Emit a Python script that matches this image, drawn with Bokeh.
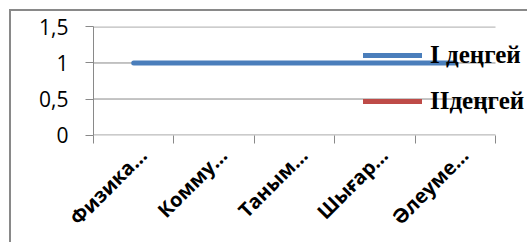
import math
from bokeh.plotting import figure
from bokeh.models import FixedTicker, Legend, LegendItem, Range1d
from bokeh.embed import file_html
from bokeh.resources import INLINE

categories = ["Физика…", "Комму…", "Таным…", "Шығар…", "Әлеуме…"]
series_names = ["I деңгей", "IIдеңгей"]
level1 = [1, 1, 1, 1, 1]
level2 = [float("nan")] * 5
y_ticks = [0, 0.5, 1, 1.5]
y_tick_labels = ["0", "0,5", "1", "1,5"]

BLUE = "#4A7EBB"
RED = "#BE4B48"
GRAY = "#898989"

n = len(categories)
# frame spans 0..n plus extra room on the right so the legend is not clipped
x_extra = 34 / 80.4
p = figure(width=518, height=233, output_backend="svg", toolbar_location=None,
           x_range=Range1d(0, n + x_extra), y_range=Range1d(-0.006, 1.506),
           min_border_left=82, min_border_right=0, min_border_top=15, min_border_bottom=109)
p.margin = (9, 0, 0, 9)
p.styles = {"border-left": "2px solid " + GRAY, "border-top": "2px solid " + GRAY}
p.outline_line_color = None
p.xgrid.grid_line_color = None
p.ygrid.grid_line_color = None

# horizontal gridlines (also acting as the category axis line at 0)
p.segment(x0=[0] * len(y_ticks), x1=[n] * len(y_ticks), y0=y_ticks, y1=y_ticks,
          line_color=GRAY, line_width=1)

xc = [i + 0.5 for i in range(n)]
r1 = p.line(xc, level1, line_color=BLUE, line_width=5, line_cap="round")
r2 = p.line(xc, level2, line_color=RED, line_width=5, line_cap="round")

# y axis
p.yaxis.ticker = FixedTicker(ticks=y_ticks)
p.yaxis.major_label_overrides = {t: s for t, s in zip(y_ticks, y_tick_labels)}
p.yaxis.axis_line_color = GRAY
p.yaxis.major_tick_line_color = GRAY
p.yaxis.major_tick_out = 8
p.yaxis.major_tick_in = 0
p.yaxis.minor_tick_line_color = None
p.yaxis.major_label_text_font = "Open Sans"
p.yaxis.major_label_text_font_size = "21px"
p.yaxis.major_label_text_color = "#000000"
p.yaxis.major_label_standoff = 17

# x axis: boundary ticks as minor ticks, labels at shifted centers
shift = 0.115
label_pos = [i + 0.5 + shift for i in range(n)]
p.xaxis.ticker = FixedTicker(ticks=label_pos, minor_ticks=list(range(n + 1)))
p.xaxis.major_label_overrides = {t: s for t, s in zip(label_pos, categories)}
p.xaxis.axis_line_color = None
p.xaxis.major_tick_line_color = None
p.xaxis.major_tick_out = 8
p.xaxis.major_tick_in = 0
p.xaxis.minor_tick_line_color = GRAY
p.xaxis.minor_tick_out = 8
p.xaxis.minor_tick_in = 0
p.xaxis.major_label_orientation = math.pi / 4
p.xaxis.major_label_standoff = 8
p.xaxis.major_label_text_font = "Open Sans"
p.xaxis.major_label_text_font_style = "bold"
p.xaxis.major_label_text_font_size = "20px"
p.xaxis.major_label_text_color = "#000000"

legend = Legend(items=[LegendItem(label=series_names[0], renderers=[r1]),
                       LegendItem(label=series_names[1], renderers=[r2])],
                location=(270, 20), orientation="vertical")
legend.background_fill_alpha = 0
legend.border_line_color = None
legend.padding = 0
legend.margin = 0
legend.spacing = 18
legend.glyph_width = 59
legend.glyph_height = 20
legend.label_standoff = 8
legend.label_text_font = "Liberation Serif"
legend.label_text_font_style = "bold"
legend.label_text_font_size = "25px"
legend.label_text_color = "#000000"
p.add_layout(legend, "center")

open("out.html", "w").write(file_html(p, INLINE))
